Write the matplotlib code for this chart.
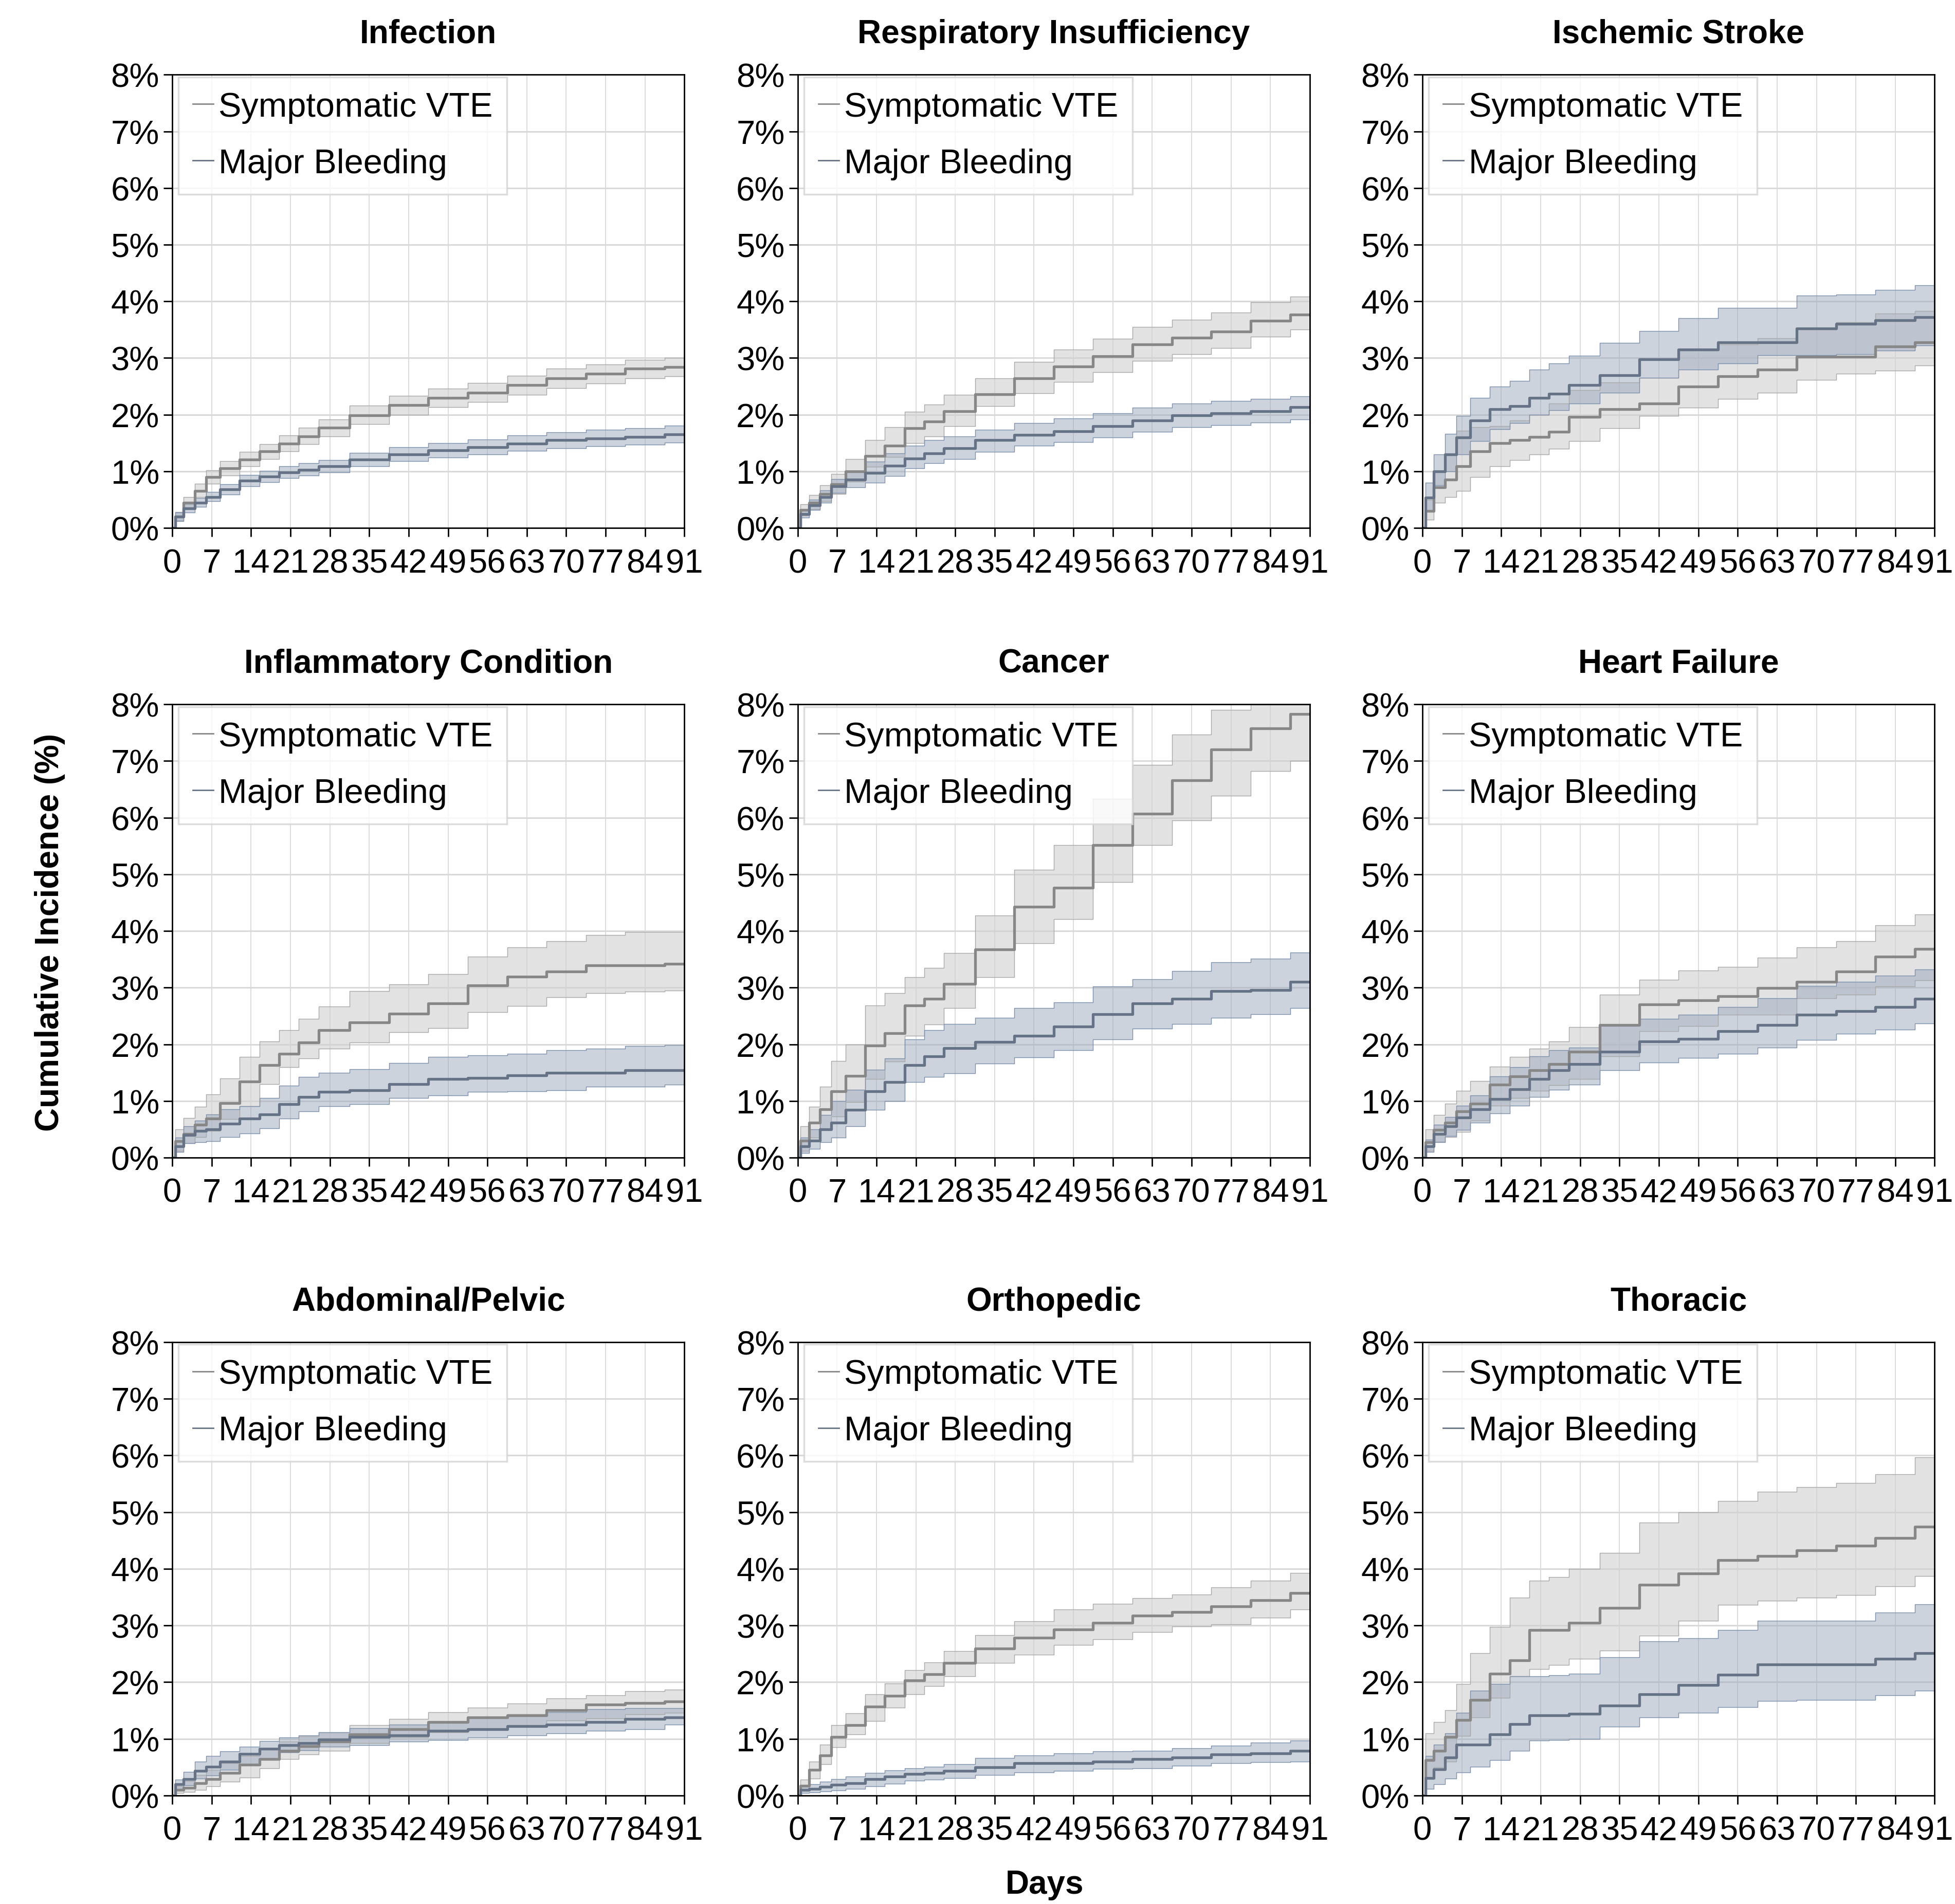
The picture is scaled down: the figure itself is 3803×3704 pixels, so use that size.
import matplotlib
matplotlib.use('Agg')
import matplotlib.pyplot as plt
from matplotlib.lines import Line2D

plt.rcParams['font.family'] = ['Liberation Sans Narrow', 'Liberation Sans', 'DejaVu Sans']

days = [0, 1, 3, 5, 7, 10, 14, 17, 21, 24, 28, 35, 42, 49, 56, 63, 70, 77, 84, 91]
xticks = list(range(0, 92, 7))
yticks = [0, 1, 2, 3, 4, 5, 6, 7, 8]
ytick_labels = ['%d%%' % v for v in yticks]

titles = ['Infection', 'Respiratory Insufficiency', 'Ischemic Stroke',
          'Inflammatory Condition', 'Cancer', 'Heart Failure',
          'Abdominal/Pelvic', 'Orthopedic', 'Thoracic']

# cumulative incidence in %, estimate + lower/upper band
infection_vte = [0, 0.2, 0.45, 0.65, 0.9, 1.05, 1.21, 1.35, 1.49, 1.62, 1.77, 1.99, 2.17, 2.3, 2.39, 2.52, 2.64, 2.72, 2.81, 2.84]
infection_vte_lo = [0, 0.12, 0.35, 0.55, 0.78, 0.93, 1.09, 1.22, 1.35, 1.48, 1.62, 1.83, 2.0, 2.13, 2.22, 2.35, 2.47, 2.55, 2.64, 2.68]
infection_vte_hi = [0, 0.28, 0.55, 0.78, 1.02, 1.18, 1.34, 1.48, 1.63, 1.77, 1.92, 2.16, 2.33, 2.46, 2.56, 2.69, 2.81, 2.89, 2.97, 3.0]
infection_bld = [0, 0.2, 0.35, 0.45, 0.55, 0.68, 0.84, 0.91, 0.98, 1.03, 1.09, 1.21, 1.3, 1.37, 1.43, 1.49, 1.55, 1.58, 1.61, 1.65]
infection_bld_lo = [0, 0.13, 0.27, 0.37, 0.47, 0.59, 0.74, 0.81, 0.88, 0.93, 0.98, 1.09, 1.18, 1.24, 1.3, 1.36, 1.41, 1.44, 1.47, 1.51]
infection_bld_hi = [0, 0.27, 0.43, 0.53, 0.64, 0.77, 0.94, 1.01, 1.09, 1.14, 1.2, 1.33, 1.43, 1.5, 1.56, 1.63, 1.69, 1.73, 1.76, 1.81]

resp_vte = [0, 0.32, 0.45, 0.6, 0.77, 1.0, 1.27, 1.45, 1.76, 1.88, 2.06, 2.36, 2.64, 2.85, 3.03, 3.24, 3.36, 3.47, 3.66, 3.77]
resp_vte_lo = [0, 0.22, 0.33, 0.47, 0.6, 0.82, 1.08, 1.25, 1.5, 1.62, 1.8, 2.15, 2.38, 2.58, 2.75, 2.95, 3.07, 3.18, 3.38, 3.5]
resp_vte_hi = [0, 0.42, 0.58, 0.75, 0.95, 1.22, 1.55, 1.78, 2.05, 2.18, 2.35, 2.64, 2.93, 3.15, 3.34, 3.55, 3.68, 3.8, 3.98, 4.08]
resp_bld = [0, 0.25, 0.4, 0.55, 0.74, 0.85, 0.97, 1.1, 1.23, 1.32, 1.41, 1.55, 1.64, 1.71, 1.8, 1.9, 1.99, 2.02, 2.06, 2.13]
resp_bld_lo = [0, 0.18, 0.32, 0.45, 0.62, 0.72, 0.8, 0.92, 1.05, 1.14, 1.22, 1.34, 1.45, 1.52, 1.6, 1.7, 1.78, 1.82, 1.86, 1.92]
resp_bld_hi = [0, 0.32, 0.5, 0.66, 0.86, 1.0, 1.17, 1.32, 1.45, 1.55, 1.62, 1.73, 1.85, 1.93, 2.02, 2.12, 2.2, 2.24, 2.28, 2.32]

stroke_vte = [0, 0.3, 0.72, 0.85, 1.09, 1.35, 1.5, 1.55, 1.61, 1.7, 1.96, 2.1, 2.2, 2.5, 2.68, 2.8, 3.02, 3.02, 3.2, 3.28]
stroke_vte_lo = [0, 0.15, 0.45, 0.55, 0.65, 0.9, 1.09, 1.2, 1.3, 1.4, 1.53, 1.76, 1.98, 2.12, 2.28, 2.39, 2.61, 2.72, 2.78, 2.87]
stroke_vte_hi = [0, 0.5, 1.0, 1.3, 1.72, 1.78, 1.8, 1.9, 2.0, 2.2, 2.43, 2.57, 2.65, 3.13, 3.24, 3.35, 3.5, 3.63, 3.78, 3.83]
stroke_bld = [0, 0.54, 1.0, 1.3, 1.6, 1.9, 2.1, 2.15, 2.3, 2.37, 2.52, 2.7, 2.98, 3.15, 3.28, 3.28, 3.52, 3.6, 3.67, 3.72]
stroke_bld_lo = [0, 0.3, 0.75, 1.0, 1.3, 1.53, 1.74, 1.85, 2.0, 2.08, 2.2, 2.39, 2.65, 2.8, 2.9, 3.05, 3.05, 3.07, 3.13, 3.22]
stroke_bld_hi = [0, 0.8, 1.3, 1.66, 1.98, 2.3, 2.5, 2.6, 2.8, 2.9, 3.04, 3.27, 3.48, 3.7, 3.88, 3.88, 4.1, 4.12, 4.2, 4.28]

inflam_vte = [0, 0.29, 0.42, 0.58, 0.69, 0.96, 1.34, 1.63, 1.83, 2.03, 2.25, 2.39, 2.54, 2.72, 3.04, 3.19, 3.28, 3.39, 3.39, 3.42]
inflam_vte_lo = [0, 0.12, 0.25, 0.36, 0.47, 0.68, 0.91, 1.3, 1.6, 1.75, 1.92, 2.03, 2.21, 2.29, 2.57, 2.68, 2.83, 2.9, 2.93, 2.95]
inflam_vte_hi = [0, 0.5, 0.7, 0.9, 1.12, 1.4, 1.78, 2.05, 2.25, 2.45, 2.67, 2.94, 3.06, 3.24, 3.55, 3.71, 3.82, 3.93, 3.98, 3.98]
inflam_bld = [0, 0.2, 0.4, 0.47, 0.5, 0.6, 0.69, 0.76, 0.94, 1.07, 1.16, 1.19, 1.3, 1.39, 1.41, 1.45, 1.5, 1.5, 1.54, 1.54]
inflam_bld_lo = [0, 0.1, 0.25, 0.27, 0.29, 0.36, 0.43, 0.52, 0.69, 0.82, 0.91, 0.94, 1.05, 1.1, 1.16, 1.17, 1.19, 1.25, 1.25, 1.29]
inflam_bld_hi = [0, 0.35, 0.55, 0.65, 0.76, 0.85, 0.91, 1.05, 1.27, 1.42, 1.5, 1.56, 1.67, 1.78, 1.81, 1.83, 1.9, 1.92, 1.97, 1.99]

cancer_vte = [0, 0.3, 0.62, 0.85, 1.17, 1.44, 1.98, 2.2, 2.69, 2.8, 3.07, 3.67, 4.43, 4.76, 5.52, 6.07, 6.66, 7.2, 7.58, 7.83]
cancer_vte_lo = [0, 0.12, 0.35, 0.5, 0.73, 0.98, 1.39, 1.7, 2.15, 2.35, 2.64, 3.18, 3.78, 4.21, 4.86, 5.52, 5.95, 6.39, 6.82, 7.0]
cancer_vte_hi = [0, 0.55, 0.9, 1.25, 1.71, 2.0, 2.69, 2.9, 3.18, 3.35, 3.61, 4.27, 5.08, 5.52, 6.33, 6.93, 7.47, 7.9, 8.3, 8.4]
cancer_bld = [0, 0.2, 0.3, 0.5, 0.62, 0.84, 1.17, 1.33, 1.63, 1.79, 1.93, 2.04, 2.15, 2.31, 2.53, 2.72, 2.8, 2.94, 2.96, 3.1]
cancer_bld_lo = [0, 0.08, 0.15, 0.27, 0.35, 0.55, 0.84, 1.0, 1.33, 1.42, 1.49, 1.66, 1.77, 1.9, 2.09, 2.28, 2.36, 2.47, 2.53, 2.64]
cancer_bld_hi = [0, 0.35, 0.5, 0.75, 1.0, 1.2, 1.55, 1.75, 2.09, 2.25, 2.36, 2.47, 2.64, 2.74, 3.02, 3.15, 3.29, 3.45, 3.51, 3.62]

hf_vte = [0, 0.27, 0.49, 0.62, 0.82, 0.95, 1.29, 1.43, 1.54, 1.65, 1.87, 2.34, 2.7, 2.78, 2.85, 2.99, 3.1, 3.28, 3.55, 3.68]
hf_vte_lo = [0, 0.12, 0.28, 0.36, 0.45, 0.65, 0.92, 1.05, 1.18, 1.28, 1.39, 1.79, 2.23, 2.32, 2.52, 2.52, 2.81, 2.88, 3.02, 3.13]
hf_vte_hi = [0, 0.5, 0.75, 0.95, 1.18, 1.35, 1.61, 1.78, 1.92, 2.05, 2.3, 2.88, 3.14, 3.3, 3.37, 3.53, 3.71, 3.82, 4.1, 4.29]
hf_bld = [0, 0.2, 0.42, 0.55, 0.71, 0.85, 1.03, 1.21, 1.39, 1.54, 1.65, 1.87, 2.05, 2.1, 2.23, 2.34, 2.52, 2.59, 2.66, 2.8]
hf_bld_lo = [0, 0.1, 0.27, 0.38, 0.49, 0.62, 0.78, 0.92, 1.07, 1.2, 1.29, 1.54, 1.68, 1.76, 1.83, 1.94, 2.08, 2.19, 2.26, 2.37]
hf_bld_hi = [0, 0.32, 0.58, 0.72, 0.92, 1.1, 1.43, 1.6, 1.79, 1.9, 1.94, 2.34, 2.45, 2.52, 2.66, 2.81, 3.03, 3.1, 3.21, 3.32]

abd_vte = [0, 0.1, 0.13, 0.22, 0.29, 0.4, 0.54, 0.64, 0.79, 0.87, 0.95, 1.08, 1.17, 1.3, 1.38, 1.41, 1.5, 1.6, 1.63, 1.66]
abd_vte_lo = [0, 0.04, 0.06, 0.1, 0.16, 0.24, 0.32, 0.48, 0.64, 0.72, 0.79, 0.92, 1.02, 1.11, 1.17, 1.24, 1.32, 1.36, 1.43, 1.46]
abd_vte_hi = [0, 0.16, 0.25, 0.36, 0.45, 0.57, 0.7, 0.82, 0.95, 1.04, 1.11, 1.24, 1.35, 1.47, 1.55, 1.62, 1.71, 1.77, 1.84, 1.87]
abd_bld = [0, 0.2, 0.29, 0.43, 0.51, 0.6, 0.73, 0.82, 0.89, 0.92, 0.99, 1.03, 1.06, 1.14, 1.17, 1.22, 1.25, 1.3, 1.35, 1.38]
abd_bld_lo = [0, 0.12, 0.18, 0.3, 0.35, 0.45, 0.54, 0.65, 0.76, 0.8, 0.86, 0.89, 0.95, 0.98, 1.02, 1.06, 1.1, 1.14, 1.17, 1.25]
abd_bld_hi = [0, 0.28, 0.42, 0.6, 0.7, 0.78, 0.86, 0.96, 1.02, 1.06, 1.11, 1.19, 1.25, 1.3, 1.39, 1.43, 1.47, 1.52, 1.54, 1.54]

ortho_vte = [0, 0.17, 0.45, 0.71, 1.03, 1.24, 1.57, 1.76, 2.03, 2.14, 2.34, 2.59, 2.78, 2.93, 3.05, 3.17, 3.24, 3.34, 3.45, 3.57]
ortho_vte_lo = [0, 0.08, 0.3, 0.55, 0.85, 1.08, 1.31, 1.55, 1.79, 1.93, 2.1, 2.34, 2.48, 2.66, 2.76, 2.88, 2.98, 3.02, 3.14, 3.28]
ortho_vte_hi = [0, 0.28, 0.6, 0.9, 1.24, 1.45, 1.79, 1.98, 2.21, 2.35, 2.55, 2.83, 3.07, 3.28, 3.38, 3.48, 3.55, 3.67, 3.79, 3.93]
ortho_bld = [0, 0.1, 0.12, 0.15, 0.19, 0.22, 0.29, 0.33, 0.38, 0.4, 0.43, 0.5, 0.57, 0.57, 0.6, 0.64, 0.67, 0.72, 0.74, 0.79]
ortho_bld_lo = [0, 0.04, 0.05, 0.07, 0.09, 0.12, 0.16, 0.21, 0.26, 0.28, 0.31, 0.36, 0.41, 0.43, 0.47, 0.48, 0.52, 0.57, 0.59, 0.6]
ortho_bld_hi = [0, 0.16, 0.2, 0.24, 0.29, 0.33, 0.4, 0.44, 0.48, 0.51, 0.55, 0.66, 0.71, 0.74, 0.78, 0.79, 0.83, 0.88, 0.93, 0.97]

thor_vte = [0, 0.62, 0.79, 1.03, 1.33, 1.69, 2.15, 2.38, 2.92, 2.92, 3.05, 3.31, 3.72, 3.92, 4.15, 4.23, 4.33, 4.41, 4.54, 4.74]
thor_vte_lo = [0, 0.3, 0.5, 0.6, 1.05, 1.38, 1.72, 2.1, 2.23, 2.3, 2.41, 2.56, 2.82, 3.08, 3.36, 3.44, 3.49, 3.54, 3.69, 3.87]
thor_vte_hi = [0, 1.1, 1.3, 1.5, 1.97, 2.51, 2.97, 3.49, 3.79, 3.85, 4.0, 4.28, 4.82, 5.0, 5.2, 5.36, 5.44, 5.51, 5.67, 5.97]
thor_bld = [0, 0.31, 0.46, 0.67, 0.9, 0.9, 1.08, 1.26, 1.41, 1.41, 1.44, 1.59, 1.79, 1.95, 2.13, 2.31, 2.31, 2.31, 2.41, 2.51]
thor_bld_lo = [0, 0.12, 0.2, 0.3, 0.41, 0.51, 0.62, 0.79, 0.97, 0.98, 1.0, 1.21, 1.38, 1.46, 1.56, 1.67, 1.69, 1.69, 1.77, 1.85]
thor_bld_hi = [0, 0.7, 0.9, 1.1, 1.46, 1.85, 1.97, 2.1, 2.1, 2.12, 2.15, 2.44, 2.72, 2.77, 2.92, 3.08, 3.08, 3.08, 3.23, 3.37]

panels = [
    (infection_vte, infection_vte_lo, infection_vte_hi, infection_bld, infection_bld_lo, infection_bld_hi),
    (resp_vte, resp_vte_lo, resp_vte_hi, resp_bld, resp_bld_lo, resp_bld_hi),
    (stroke_vte, stroke_vte_lo, stroke_vte_hi, stroke_bld, stroke_bld_lo, stroke_bld_hi),
    (inflam_vte, inflam_vte_lo, inflam_vte_hi, inflam_bld, inflam_bld_lo, inflam_bld_hi),
    (cancer_vte, cancer_vte_lo, cancer_vte_hi, cancer_bld, cancer_bld_lo, cancer_bld_hi),
    (hf_vte, hf_vte_lo, hf_vte_hi, hf_bld, hf_bld_lo, hf_bld_hi),
    (abd_vte, abd_vte_lo, abd_vte_hi, abd_bld, abd_bld_lo, abd_bld_hi),
    (ortho_vte, ortho_vte_lo, ortho_vte_hi, ortho_bld, ortho_bld_lo, ortho_bld_hi),
    (thor_vte, thor_vte_lo, thor_vte_hi, thor_bld, thor_bld_lo, thor_bld_hi),
]

vte_line = '#878787'
vte_fill = '#d0d0d0'
vte_edge = '#a8a8a8'
bld_line = '#667285'
bld_fill = '#9aa8bd'
bld_edge = '#7d90ab'

fig = plt.figure(figsize=(38.03, 37.05), dpi=100)

lefts = [0.0881, 0.408, 0.7276]
bottoms = [0.7225, 0.3919, 0.0570]
w = 0.262
h = 0.238

for k in range(9):
    r = k // 3
    c = k % 3
    ax = fig.add_axes([lefts[c], bottoms[r], w, h])
    vte, vlo, vhi, bld, blo, bhi = panels[k]

    ax.fill_between(days, vlo, vhi, step='mid', color=vte_fill, alpha=0.6, lw=0)
    ax.step(days, vlo, where='mid', color=vte_edge, lw=1.0)
    ax.step(days, vhi, where='mid', color=vte_edge, lw=1.0)
    ax.fill_between(days, blo, bhi, step='mid', color=bld_fill, alpha=0.5, lw=0)
    ax.step(days, blo, where='mid', color=bld_edge, lw=1.0)
    ax.step(days, bhi, where='mid', color=bld_edge, lw=1.0)
    ax.step(days, vte, where='mid', color=vte_line, lw=3.8)
    ax.step(days, bld, where='mid', color=bld_line, lw=3.8)

    ax.set_xlim(0, 91)
    ax.set_ylim(0, 8)
    ax.set_xticks(xticks)
    ax.set_yticks(yticks)
    ax.set_yticklabels(ytick_labels)
    ax.grid(axis='y', color='#d9d9d9', lw=2.2)
    ax.grid(axis='x', color='#d9d9d9', lw=1.3)
    ax.set_axisbelow(True)
    for s in ax.spines.values():
        s.set_color('black')
        s.set_linewidth(2)
    ax.tick_params(direction='out', length=12, width=2, labelsize=47, colors='black')
    ax.tick_params(axis='x', pad=16)
    ax.tick_params(axis='y', pad=6)
    ax.set_title(titles[k], fontsize=46, fontweight='bold',
                 family=['Liberation Sans', 'DejaVu Sans'], pad=45)

    handles = [Line2D([], [], color=vte_line, lw=2),
               Line2D([], [], color=bld_line, lw=2)]
    leg = ax.legend(handles, ['Symptomatic VTE', 'Major Bleeding'],
                    loc='upper left', bbox_to_anchor=(0.012, 0.995),
                    borderaxespad=0, fontsize=48, frameon=True, fancybox=False,
                    handlelength=0.6, handletextpad=0.15, borderpad=0.42,
                    labelspacing=0.72)
    leg.get_frame().set_edgecolor('#d4d4d4')
    leg.get_frame().set_linewidth(2.5)

fig.text(0.0255, 0.5104, 'Cumulative Incidence (%)', rotation=90, ha='center',
         va='center', fontsize=46, fontweight='bold', family=['Liberation Sans', 'DejaVu Sans'])
fig.text(0.5344, 0.0103, 'Days', ha='center', va='center', fontsize=46,
         fontweight='bold', family=['Liberation Sans', 'DejaVu Sans'])

plt.savefig('out.png', dpi=100)
